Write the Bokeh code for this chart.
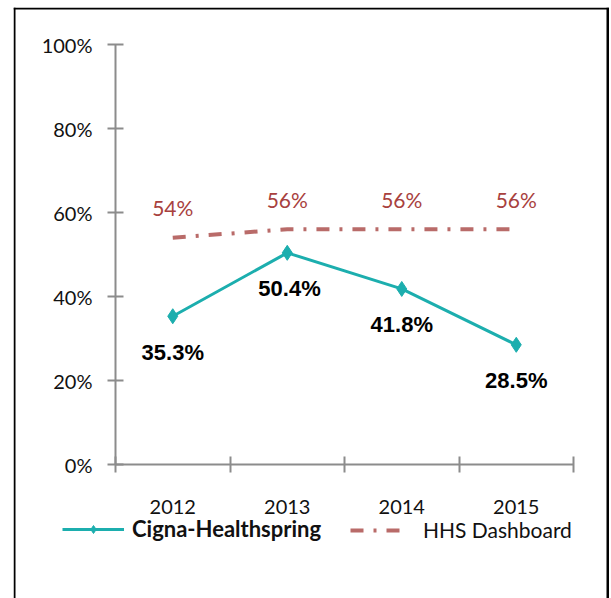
from bokeh.plotting import figure
from bokeh.models import FixedTicker, Legend, LegendItem, Range1d, Span
from bokeh.core.properties import value
from bokeh.embed import file_html
from bokeh.resources import INLINE

years = ["2012", "2013", "2014", "2015"]
cigna = [35.3, 50.4, 41.8, 28.5]
hhs = [54, 56, 56, 56]
y_ticks = [0, 20, 40, 60, 80, 100]
y_tick_labels = ["0%", "20%", "40%", "60%", "80%", "100%"]

xs = [i + 1 for i in range(len(years))]
cigna_labels = [f"{v:.1f}%" for v in cigna]
hhs_labels = [f"{v:.0f}%" for v in hhs]

TEAL = "#1CAEAE"
ROSE = "#B96B69"
ROSE_TXT = "#A8413E"
AXIS = "#8C8C8C"

W, H = 596, 591
PX_X = 114.5   # pixels per category
PX_Y = 4.2     # pixels per percent

# frame spans the whole canvas; axes are pinned at x=0.5 / y=0
p = figure(width=W, height=H, output_backend="svg", toolbar_location=None,
           x_range=Range1d(0.5 - 102 / PX_X, 4.5 + 36 / PX_X),
           y_range=Range1d(-134 / PX_Y, 100 + 37 / PX_Y),
           min_border_left=0, min_border_right=0, min_border_top=0,
           min_border_bottom=0)
p.margin = (7, 0, 0, 13)
p.outline_line_color = None
p.grid.visible = False

# chart border (left, top, right; bottom is cut off in the original)
p.add_layout(Span(location=1, location_units="screen", dimension="height",
                  line_color="black", line_width=2))
p.add_layout(Span(location=H - 1, location_units="screen", dimension="width",
                  line_color="black", line_width=2))
p.add_layout(Span(location=W - 1.5, location_units="screen", dimension="height",
                  line_color="black", line_width=3))

# y axis
ya = p.yaxis[0]
ya.fixed_location = 0.5
ya.bounds = (0, 100)
ya.ticker = FixedTicker(ticks=y_ticks, minor_ticks=[])
ya.major_label_overrides = {t: l for t, l in zip(y_ticks, y_tick_labels)}
ya.axis_line_color = AXIS
ya.axis_line_width = 2
ya.major_tick_line_color = AXIS
ya.major_tick_line_width = 2
ya.major_tick_in = 8
ya.major_tick_out = 8
ya.major_label_standoff = 15
ya.major_label_text_font = "Lato"
ya.major_label_text_font_size = "20px"
ya.major_label_text_color = "#111111"

# x axis
xa = p.xaxis[0]
xa.fixed_location = 0
xa.bounds = (0.5, 4.5)
xa.ticker = FixedTicker(ticks=xs, minor_ticks=[0.5, 1.5, 2.5, 3.5, 4.5])
xa.major_label_overrides = {x: y for x, y in zip(xs, years)}
xa.axis_line_color = AXIS
xa.axis_line_width = 2
xa.major_tick_line_color = None
xa.major_tick_in = 0
xa.major_tick_out = 0
xa.minor_tick_line_color = AXIS
xa.minor_tick_line_width = 2
xa.minor_tick_in = 8
xa.minor_tick_out = 8
xa.major_label_standoff = 27
xa.major_label_text_font = "Lato"
xa.major_label_text_font_size = "20px"
xa.major_label_text_color = "#111111"

# HHS dashboard line
hl = p.line(xs, hhs, line_color=ROSE, line_width=4, line_dash="13 10 3 10")
p.text(xs, hhs, text=hhs_labels, text_font=value("Lato"), text_font_size="21px",
       text_color=ROSE_TXT, text_align="center", text_baseline="middle",
       y_offset=-30)

# Cigna line
cl = p.line(xs, cigna, line_color=TEAL, line_width=3)
cm = p.scatter(xs, cigna, marker="diamond", size=15, fill_color=TEAL, line_color=TEAL)
p.text([x + 0.02 if i == 1 else x for i, x in enumerate(xs)], cigna, text=cigna_labels,
       text_font=value("Liberation Sans"), text_font_style="bold",
       text_font_size="22px", text_color="#000000", text_align="center",
       text_baseline="middle", y_offset=36)

common = dict(margin=0, padding=0, spacing=0, border_line_alpha=0,
              background_fill_alpha=0, glyph_height=20,
              label_text_font="Lato", label_text_color="#111111",
              orientation="horizontal")
leg1 = Legend(items=[LegendItem(label="Cigna-Healthspring", renderers=[cl, cm])],
              location=(49, 56), glyph_width=62, label_standoff=8,
              label_text_font_size="22px", label_text_font_style="bold", **common)
leg2 = Legend(items=[LegendItem(label="HHS Dashboard", renderers=[hl])],
              location=(337, 56), glyph_width=53, label_standoff=20,
              label_text_font_size="21px", **common)
p.add_layout(leg1, "center")
p.add_layout(leg2, "center")

open("out.html", "w").write(file_html(p, INLINE))
